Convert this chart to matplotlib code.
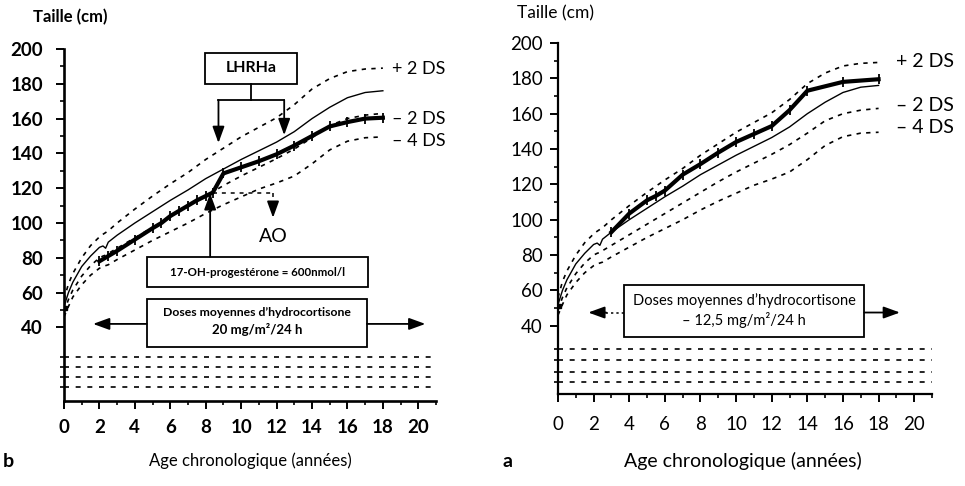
import matplotlib.pyplot as plt
from matplotlib.patches import Rectangle
from matplotlib.ticker import FixedLocator
import numpy as np

plt.rcParams['font.family'] = ['Lato', 'DejaVu Sans']

# courbes de reference (taille en cm selon l'age en annees)
ref_age = [0, 0.25, 0.5, 1, 1.5, 2, 2.2, 2.35, 2.5, 3, 4, 5, 6, 7, 8, 9, 10, 11, 12, 13, 14, 15, 16, 17, 18]
ref_moy = [52, 60, 66, 75, 81, 86, 86.8, 85.5, 89, 93, 100, 106.5, 113, 119, 125.5, 131, 136.5, 141.5, 146.5, 152.5, 160, 166.5, 172, 175, 176]
ref_p2 = [56, 65, 71, 80, 87, 92, 93.5, 94.5, 95.5, 100, 108, 115.5, 122.5, 129, 136.5, 143, 149.5, 155, 160.5, 168, 177, 183, 187, 188.5, 189]
ref_m2 = [49, 56, 61.5, 69.5, 75.5, 80, 81, 81.5, 82.5, 85.5, 91.5, 97.5, 103.5, 109.5, 115.5, 121.5, 127, 132, 137, 142.5, 149, 156, 160, 162, 163]
ref_m4 = [46, 52, 57.5, 64.5, 70, 74, 75, 75.5, 76, 79, 84.5, 90, 95, 100, 105.5, 110.5, 115, 119.5, 123, 127, 134, 142, 147, 149, 149.5]

# patient b
pat_b_age = [2, 2.5, 3, 4, 5, 5.5, 6, 6.5, 7, 7.5, 8, 8.4, 9, 10, 11, 12, 13, 14, 15, 16, 17, 18]
pat_b_len = [78, 81, 84, 90.5, 97, 100, 104, 107, 110, 113, 115.5, 117.5, 128.5, 132, 135.5, 139.5, 144.5, 150, 155.5, 158, 160, 160.5]

# patient a
pat_a_age = [3, 4, 5, 5.5, 6, 7, 8, 9, 10, 11, 12, 13, 14, 16, 18]
pat_a_len = [93, 103.5, 111, 113.5, 116.5, 125.5, 131.5, 138, 144, 148.5, 153, 162, 173, 178, 179.5]

naiss_age = [0.05]
naiss_len = [51]

# lignes du bas
rangs_b = [23, 17, 11.3, 5.5]
rangs_a = [27, 20.5, 14, 8]

ds_labels = ['+ 2 DS', '\u2013 2 DS', '\u2013 4 DS']

fig = plt.figure(figsize=(9.65, 4.86), dpi=100)
ax_b = fig.add_axes([64/965, 85/486, 372/965, 352/486])
ax_a = fig.add_axes([558/965, 92/486, 374/965, 351/486])

dash = (2.6, 3.2)


def arrow(ax, x0, y0, x1, y1, **kw):
    ax.annotate('', xy=(x1, y1), xytext=(x0, y0),
                arrowprops=dict(arrowstyle='-|>,head_length=0.55,head_width=0.2',
                                mutation_scale=18, lw=1.3, color='k',
                                shrinkA=0, shrinkB=0, **kw))


def base(ax, rangs, ylo, weight, pad_y, pad_x, spw, lsize):
    ax.plot(ref_age, ref_moy, color='k', lw=1.0)
    for v in (ref_p2, ref_m2, ref_m4):
        ax.plot(ref_age, v, color='k', lw=1.2, ls=(0, dash))
    for r in rangs:
        ax.plot([0, 21], [r, r], color='k', lw=1.2, ls=(0, (3, 4)), clip_on=False)
    ax.plot(naiss_age, naiss_len, 's', color='k', ms=3)

    ax.set_xlim(0, 21)
    ax.set_ylim(ylo, 200)
    for s in ('top', 'right'):
        ax.spines[s].set_visible(False)
    for s in ('left', 'bottom'):
        ax.spines[s].set_linewidth(spw)
    ax.set_xticks(np.arange(0, 21, 2))
    ax.xaxis.set_minor_locator(FixedLocator(np.arange(1, 22, 2)))
    ax.set_yticks(np.arange(40, 201, 20))
    ax.yaxis.set_minor_locator(FixedLocator(list(np.arange(50, 200, 20)) + rangs))
    ax.tick_params(axis='y', which='major', length=6, width=1.4, pad=pad_y,
                   labelsize=lsize)
    ax.tick_params(axis='x', which='major', length=6, width=1.4, pad=pad_x,
                   labelsize=lsize)
    ax.tick_params(which='minor', length=3, width=1.2)
    for t in ax.get_xticklabels() + ax.get_yticklabels():
        t.set_fontweight(weight)


base(ax_b, rangs_b, -2.3, 'bold', 9, 7, 1.9, 13.5)
base(ax_a, rangs_a, 1.4, 'normal', 5, 10, 1.6, 13.5)

# --- panneau b ---
ax_b.plot(pat_b_age, pat_b_len, color='k', lw=3, marker='|', ms=7, mew=1.3)

ax_b.add_patch(Rectangle((7.97, 180), 5.19, 17.7, fc='white', ec='k', lw=1.3))
ax_b.text(10.56, 189, 'LHRHa', ha='center', va='center', fontsize=11.5, fontweight='bold')
ax_b.plot([10.56, 10.56], [180, 170.6], color='k', lw=1.3)
ax_b.plot([8.72, 12.43], [170.6, 170.6], color='k', lw=1.3)
arrow(ax_b, 8.72, 170.6, 8.72, 146)
arrow(ax_b, 12.43, 170.6, 12.43, 150.5)

# age osseux
ax_b.plot([8.4, 11.8], [117.3, 117.3], color='k', lw=1.1, ls=(0, dash))
ax_b.plot([11.8, 11.8], [117.3, 108], color='k', lw=1.1, ls=(0, dash))
arrow(ax_b, 11.8, 109, 11.8, 103)
ax_b.text(11.8, 92, 'AO', ha='center', va='center', fontsize=14)

arrow(ax_b, 8.25, 80.7, 8.25, 117.1)
ax_b.add_patch(Rectangle((4.67, 63.2), 12.48, 17.5, fc='white', ec='k', lw=1.3))
ax_b.text(10.91, 71.8, '17-OH-progest\u00e9rone = 600nmol/l', ha='center', va='center',
          fontsize=8.3, fontweight='bold')

ax_b.add_patch(Rectangle((4.67, 29), 12.43, 27.4, fc='white', ec='k', lw=1.3, clip_on=False))
ax_b.text(10.88, 48.3, 'Doses moyennes d\u2019hydrocortisone', ha='center', va='center',
          fontsize=8.8, fontweight='bold')
ax_b.text(10.88, 38.8, '20 mg/m\u00b2/24 h', ha='center', va='center',
          fontsize=9.5, fontweight='bold')
arrow(ax_b, 4.67, 42, 1.64, 42)
arrow(ax_b, 17.1, 42, 20.4, 42)

for lab, y in zip(ds_labels, [188.5, 160, 147]):
    ax_b.text(18.5, y, lab, ha='left', va='center', fontsize=13, clip_on=False)

# --- panneau a ---
ax_a.plot(pat_a_age, pat_a_len, color='k', lw=3, marker='|', ms=7, mew=1.3)

ax_a.add_patch(Rectangle((3.71, 33.4), 13.49, 29.8, fc='white', ec='k', lw=1.3))
ax_a.text(10.45, 54.3, 'Doses moyennes d\u2019hydrocortisone', ha='center', va='center',
          fontsize=10.5)
ax_a.text(10.45, 43.3, '\u2013 12,5 mg/m\u00b2/24 h', ha='center', va='center', fontsize=10.5)
ax_a.plot([3.71, 2.6], [47.5, 47.5], color='k', lw=1.1, ls=(0, (1.5, 2)))
arrow(ax_a, 2.7, 47.5, 1.7, 47.5)
arrow(ax_a, 17.2, 47.5, 19.2, 47.5)

for lab, y in zip(ds_labels, [189.3, 164.4, 152]):
    ax_a.text(19.0, y, lab, ha='left', va='center', fontsize=14, clip_on=False)

# titres
fig.text(33/965, 1 - 17/486, 'Taille (cm)', ha='left', va='center', fontsize=12, fontweight='bold')
fig.text(517/965, 1 - 13/486, 'Taille (cm)', ha='left', va='center', fontsize=12.5)
fig.text(250/965, 1 - 461/486, 'Age chronologique (ann\u00e9es)', ha='center', va='center', fontsize=12)
fig.text(743/965, 1 - 461/486, 'Age chronologique (ann\u00e9es)', ha='center', va='center', fontsize=14)
fig.text(3/965, 1 - 461/486, 'b', ha='left', va='center', fontsize=14, fontweight='bold')
fig.text(502/965, 1 - 461/486, 'a', ha='left', va='center', fontsize=14, fontweight='bold')

fig.savefig('out.png', dpi=100)
